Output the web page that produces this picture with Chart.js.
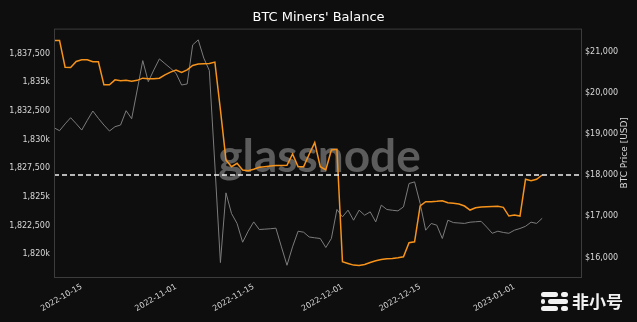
<!DOCTYPE html>
<html>
<head>
<meta charset="utf-8">
<script src="https://cdn.jsdelivr.net/npm/chart.js@4.4.0/dist/chart.umd.min.js"></script>
<style>
  html, body { margin: 0; padding: 0; background: #0e0e0f; }
  #wrap { width: 637px; height: 322px; }
</style>
</head>
<body>
<div id="wrap"><canvas id="newChart"></canvas></div>
<script>
// daily series, first point is startDate
const startDate = "2022-10-10";

const minersBalance = [
    1838670, 1838670, 1836330, 1836300, 1836830, 1836975, 1836975, 1836800, 1836800, 1834790,
    1834790, 1835225, 1835140, 1835180, 1835100, 1835180, 1835370, 1835310, 1835310, 1835370,
    1835660, 1835900, 1836070, 1835865, 1836100, 1836480, 1836600, 1836625, 1836655, 1836770,
    1832600, 1828225, 1827640, 1827935, 1827350, 1827290, 1827410, 1827585, 1827640, 1827700,
    1827730, 1827730, 1827760, 1828750, 1827640, 1827640, 1828720, 1829740, 1827640, 1827350,
    1829100, 1829160, 1819330, 1819185, 1819040, 1819010, 1819100, 1819270, 1819415, 1819535,
    1819590, 1819620, 1819680, 1819765, 1820990, 1821080, 1824200, 1824580, 1824580, 1824610,
    1824665, 1824490, 1824435, 1824375, 1824200, 1823850, 1824050, 1824110, 1824140, 1824155,
    1824170, 1824085, 1823325, 1823410, 1823325, 1826535, 1826410, 1826535, 1826910,
];

const btcPrice = [
    19156, 19084, 19250, 19400, 19255, 19100, 19337, 19563, 19385, 19222,
    19076, 19182, 19222, 19571, 19376, 20075, 20789, 20277, 20562, 20830,
    20716, 20603, 20481, 20196, 20220, 21171, 21293, 20850, 20550, 18250,
    15878, 17573, 17071, 16828, 16373, 16640, 16867, 16682, 16690, 16700,
    16714, 16258, 15812, 16260, 16640, 16616, 16500, 16480, 16463, 16244,
    16463, 17169, 16989, 17152, 16908, 17152, 17030, 17111, 16867, 17274,
    17169, 17150, 17135, 17232, 17800, 17840, 17315, 16665, 16828, 16787,
    16463, 16908, 16850, 16840, 16830, 16860, 16870, 16880, 16740, 16590,
    16640, 16610, 16590, 16665, 16706, 16760, 16860, 16830, 16955,
];

const xTickDates = ["2022-10-15", "2022-11-01", "2022-11-15", "2022-12-01", "2022-12-15", "2023-01-01"];
const balanceTicks = [1820000, 1822500, 1825000, 1827500, 1830000, 1832500, 1835000, 1837500];
const priceTicks = [16000, 17000, 18000, 19000, 20000, 21000];

const DAY = 86400000;
const t0 = Date.parse(startDate + "T00:00:00Z");
function dayIndex(d) {
    return Math.round((Date.parse(d + "T00:00:00Z") - t0) / DAY);
}
function dayLabel(i) {
    return new Date(t0 + i * DAY).toISOString().slice(0, 10);
}

const font = "DejaVu Sans";
const tickColor = "#d8d8d8";

const balancePoints = minersBalance.map((v, i) => ({ x: i, y: v }));
const pricePoints = btcPrice.map((v, i) => ({ x: i, y: v }));
const lastBalance = minersBalance[minersBalance.length - 1];

// background, frame, latest value line, watermark and axis title
const decor = {
    id: "decor",
    beforeDraw(chart) {
        const c = chart.ctx;
        c.save();
        c.fillStyle = "#0e0e0f";
        c.fillRect(0, 0, chart.width, chart.height);
        c.restore();
    },
    beforeDatasetsDraw(chart) {
        const c = chart.ctx;
        const a = chart.chartArea;
        c.save();
        c.fillStyle = "#5c5c5c";
        c.font = "bold 46px Lato";
        c.textAlign = "center";
        c.textBaseline = "alphabetic";
        c.fillText("glassnode", (a.left + a.right) / 2 + 2, 172);
        c.restore();
    },
    afterDatasetsDraw(chart) {
        const c = chart.ctx;
        const a = chart.chartArea;
        const y = chart.scales.y.getPixelForValue(lastBalance);
        c.save();
        c.strokeStyle = "#f0f0f0";
        c.lineWidth = 1.5;
        c.setLineDash([5, 3]);
        c.beginPath();
        c.moveTo(a.left, y);
        c.lineTo(a.right, y);
        c.stroke();
        c.setLineDash([]);
        c.strokeStyle = "#3c3c3c";
        c.lineWidth = 1;
        c.strokeRect(a.left + 0.5, a.top + 0.5, a.right - a.left, a.bottom - a.top);

        c.fillStyle = tickColor;
        c.font = "9px " + font;
        c.textAlign = "center";
        c.textBaseline = "middle";
        c.translate(625, (a.top + a.bottom) / 2);
        c.rotate(-Math.PI / 2);
        c.fillText("BTC Price [USD]", 0, 0);
        c.restore();

        // 非小号 mark
        c.save();
        c.fillStyle = "#f2f2f2";
        const bars = [[541, 292, 17], [561, 292, 7], [541, 299, 4], [548, 299, 20], [541, 306, 17], [561, 306, 7]];
        bars.forEach(([bx, by, bw]) => {
            c.beginPath();
            c.roundRect(bx, by, bw, 5, 2.5);
            c.fill();
        });
        c.font = "bold 17px 'Noto Sans CJK SC'";
        c.textAlign = "left";
        c.textBaseline = "middle";
        c.fillText("非小号", 572, 302);
        c.restore();
    },
};

const displayChart = new Chart(document.getElementById("newChart"), {
    type: "line",
    data: {
        datasets: [
            {
                label: "Miners' Balance",
                data: balancePoints,
                yAxisID: "y",
                borderColor: "#f7931a",
                borderWidth: 1.5,
                pointRadius: 0,
                tension: 0,
                order: 1,
            },
            {
                label: "BTC Price",
                data: pricePoints,
                yAxisID: "y1",
                borderColor: "#7c7c7c",
                borderWidth: 1,
                pointRadius: 0,
                tension: 0,
                order: 2,
            },
        ],
    },
    options: {
        responsive: true,
        maintainAspectRatio: false,
        animation: false,
        layout: { padding: 0 },
        plugins: {
            legend: { display: false },
            tooltip: { enabled: false },
            title: {
                display: true,
                text: "BTC Miners' Balance",
                color: "#ffffff",
                font: { family: font, size: 13, weight: "normal" },
                padding: { top: 10, bottom: 3 },
            },
        },
        scales: {
            x: {
                type: "linear",
                min: 0,
                max: 95,
                grid: { display: false, drawTicks: false },
                border: { display: false },
                afterBuildTicks: (s) => {
                    s.ticks = xTickDates.map((d) => ({ value: dayIndex(d) }));
                },
                afterFit: (s) => {
                    s.height = 45;
                },
                ticks: {
                    color: tickColor,
                    font: { family: font, size: 8 },
                    minRotation: 30,
                    maxRotation: 30,
                    padding: 5,
                    autoSkip: false,
                    callback: (v) => dayLabel(v),
                },
            },
            y: {
                position: "left",
                min: 1818000,
                max: 1839700,
                grid: { display: false, drawTicks: false },
                border: { display: false },
                afterBuildTicks: (s) => {
                    s.ticks = balanceTicks.map((v) => ({ value: v }));
                },
                afterFit: (s) => {
                    s.width = 54;
                },
                ticks: {
                    color: tickColor,
                    font: { family: font, size: 8 },
                    padding: 4,
                    callback: (v) =>
                        v % 5000 === 0
                            ? (v / 1000).toLocaleString("en-US") + "k"
                            : v.toLocaleString("en-US"),
                },
            },
            y1: {
                position: "right",
                min: 15527,
                max: 21567,
                grid: { display: false, drawTicks: false },
                border: { display: false },
                afterBuildTicks: (s) => {
                    s.ticks = priceTicks.map((v) => ({ value: v }));
                },
                afterFit: (s) => {
                    s.width = 56;
                },
                ticks: {
                    color: tickColor,
                    font: { family: font, size: 8 },
                    padding: 4,
                    callback: (v) => "$" + v.toLocaleString("en-US"),
                },
            },
        },
    },
    plugins: [decor],
});
</script>
</body>
</html>
